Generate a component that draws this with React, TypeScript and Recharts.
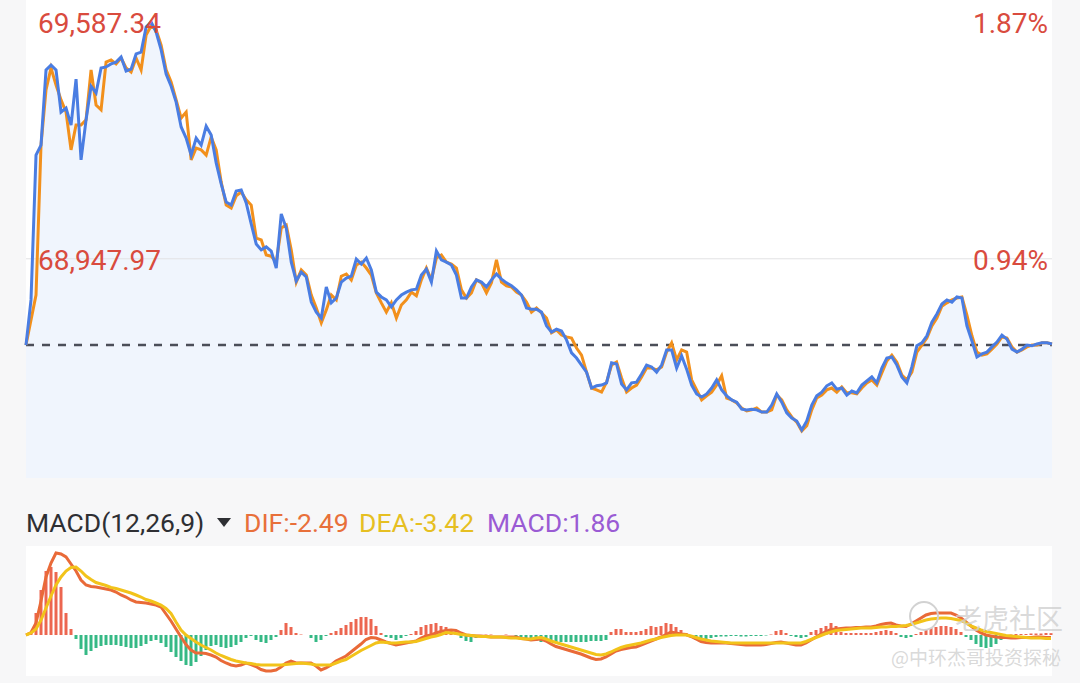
import React from 'react';
import { ComposedChart, Line, Area, Bar, Cell, XAxis, YAxis, ReferenceLine } from 'recharts';

// last price (blue) per tick
const blueLine = [
  68715, 68837, 69228, 69255, 69458, 69471, 69458, 69344, 69355, 69309,
  69433, 69215, 69323, 69414, 69396, 69463, 69466, 69474, 69479, 69493,
  69455, 69460, 69501, 69506, 69574, 69587.34, 69560, 69512, 69447, 69414,
  69371, 69304, 69274, 69228, 69274, 69255, 69306, 69282, 69207, 69150,
  69101, 69093, 69131, 69134, 69099, 69042, 68988, 68972, 68980, 68969,
  68923, 69069, 69031, 68939, 68888, 68912, 68899, 68831, 68804, 68788,
  68872, 68829, 68842, 68885, 68896, 68901, 68947, 68934, 68950, 68918,
  68858, 68845, 68837, 68818, 68837, 68850, 68858, 68864, 68866, 68904,
  68920, 68885, 68969, 68945, 68939, 68931, 68904, 68842, 68842, 68872,
  68891, 68885, 68872, 68891, 68907, 68893, 68883, 68875, 68864, 68850,
  68815, 68812, 68812, 68804, 68767, 68750, 68758, 68753, 68729, 68694,
  68680, 68661, 68642, 68599, 68605, 68607, 68613, 68667, 68664, 68610,
  68594, 68613, 68615, 68637, 68661, 68656, 68642, 68661, 68702, 68702,
  68653, 68686, 68650, 68607, 68583, 68575, 68583, 68599, 68621, 68594,
  68578, 68567, 68561, 68542, 68540, 68542, 68540, 68534, 68534, 68553,
  68583, 68561, 68532, 68518, 68510, 68486, 68510, 68553, 68578, 68588,
  68605, 68613, 68596, 68599, 68580, 68591, 68586, 68607, 68618, 68629,
  68613, 68653, 68680, 68683, 68661, 68629, 68613, 68656, 68713, 68721,
  68740, 68777, 68799, 68826, 68837, 68831, 68845, 68842, 68767, 68726,
  68683, 68691, 68696, 68710, 68723, 68742, 68731, 68704, 68696, 68704,
  68715, 68713, 68718, 68721, 68721, 68718,
];

// second price line (orange)
const orangeLine = [
  68715, 68783, 68850, 69255, 69404, 69463, 69417, 69377, 69344, 69242,
  69309, 69309, 69323, 69458, 69363, 69350, 69479, 69485, 69474, 69490,
  69463, 69452, 69490, 69458, 69552, 69577, 69566, 69525, 69458, 69425,
  69377, 69328, 69344, 69215, 69247, 69242, 69228, 69277, 69242, 69155,
  69093, 69085, 69118, 69128, 69107, 69093, 69004, 68999, 68958, 68955,
  68939, 69031, 69039, 68972, 68885, 68918, 68904, 68850, 68815, 68775,
  68810, 68850, 68837, 68901, 68907, 68891, 68931, 68939, 68923, 68904,
  68856, 68829, 68804, 68829, 68788, 68823, 68837, 68858, 68848, 68891,
  68923, 68891, 68950, 68958, 68939, 68934, 68923, 68864, 68842, 68856,
  68891, 68883, 68856, 68883, 68945, 68885, 68875, 68872, 68858, 68850,
  68831, 68804, 68815, 68802, 68788, 68748, 68756, 68742, 68737, 68734,
  68707, 68688, 68642, 68599, 68594, 68588, 68615, 68661, 68669, 68626,
  68588, 68599, 68607, 68629, 68653, 68653, 68648, 68656, 68696, 68721,
  68675, 68702, 68696, 68621, 68594, 68567, 68578, 68588, 68607, 68632,
  68572, 68567, 68559, 68545, 68537, 68540, 68545, 68534, 68534, 68540,
  68580, 68567, 68540, 68521, 68507, 68483, 68497, 68540, 68572, 68580,
  68594, 68599, 68588, 68602, 68586, 68586, 68583, 68599, 68613, 68621,
  68607, 68640, 68672, 68688, 68669, 68634, 68621, 68642, 68696, 68715,
  68734, 68767, 68788, 68820, 68829, 68837, 68842, 68845, 68796, 68740,
  68696, 68688, 68691, 68704, 68718, 68737, 68734, 68710, 68696, 68702,
  68710, 68715, 68715, 68721, 68721, 68718,
];

const difValues = [
  0, 2.5, 12, 34, 58, 72, 82, 81, 78, 71,
  64, 55, 50, 48.5, 48, 47, 46, 45, 43, 40,
  38, 35, 33, 32.5, 32, 31, 30, 28, 21, 14,
  6, -2, -9.5, -15, -18, -18, -18.5, -20, -22, -25.5,
  -28, -30, -31, -30, -28, -29.5, -31.5, -34.5, -36, -36,
  -35, -32, -28, -26, -28, -28, -28, -28, -31, -35,
  -33, -30, -26, -23.5, -21, -17, -13, -9, -4.5, -2.5,
  -3, -5, -7, -8.5, -10, -9, -8, -7, -6, -3,
  -1, 0, 2, 3.5, 4.5, 5, 4.5, 2, 0, -0.5,
  -1, -1, -1.5, -2, -2, -2, -2, -2, -2, -3.5,
  -4, -5, -4.5, -4, -6, -9, -11.5, -13, -14.5, -16,
  -17.5, -19, -21, -23, -24.5, -24, -22, -19, -16, -14.5,
  -13.5, -12.5, -12, -10, -8, -6, -4, -2, 0.5, 3,
  2, 1, 0.5, -1.5, -4, -6.5, -7.5, -8, -8, -8,
  -8, -8.5, -9, -9.5, -10, -10, -10, -10, -9.5, -8.5,
  -7.5, -7, -8, -9, -10, -10, -8, -5, -2, 1,
  3.5, 5.5, 6, 6.5, 7, 7, 7.5, 7.5, 8, 8,
  9, 10.5, 11.5, 12, 10, 9, 8.5, 11, 14, 17,
  20, 21.5, 22, 22, 22, 22, 20, 17, 13, 9,
  5, 2, 0, -1, -2, -2.5, -2.5, -3, -3, -2.5,
  -2.5, -2.5, -2, -2, -2.5, -2.49,
];

const deaValues = [
  0, 2, 6, 15, 27, 39, 50, 58, 64, 67.5,
  68, 64, 59, 55.5, 52.5, 51, 49.5, 47.5, 46.5, 45,
  43.5, 42, 40, 38, 35.5, 34, 32, 30, 26.5, 21.5,
  13, 5, 0, -3.5, -7, -10, -12.5, -15, -18, -20.5,
  -22.5, -24.5, -26, -27, -28, -28.5, -29.5, -30, -30, -30,
  -30, -30, -29.5, -29, -28.5, -28, -28.5, -29, -30, -30,
  -30, -30, -28, -26, -24.5, -21.5, -18.5, -15.5, -13, -10.5,
  -8, -7, -7.5, -8, -8, -7.5, -7, -7, -6.5, -5,
  -3.5, -2, -1, 0.5, 2.5, 2, 1.5, 0.5, 0, -0.5,
  -1, -1.5, -1.5, -2, -2, -2, -2.5, -3, -3, -3.5,
  -4, -4, -3, -2.5, -4, -6, -7.5, -9, -10.5, -12,
  -13.5, -15, -16.5, -18, -19.5, -20, -19, -17, -14.5, -12.5,
  -11, -10, -9, -8, -6.5, -5, -4, -2.5, -1.5, -0.5,
  0, 0, 0, -1, -2.5, -4, -5, -6, -6.5, -7,
  -7.5, -8, -8, -8, -8, -8, -8, -8, -8, -8,
  -8, -8, -8, -8, -8, -8, -6.5, -4.5, -2.5, -0.5,
  1.5, 3, 4.5, 5, 5.5, 6, 6.5, 7, 7, 7,
  7.5, 8, 8, 8.5, 8.5, 9, 9.5, 10.5, 12, 13.5,
  15, 16, 16.5, 17, 17, 16.5, 15.5, 14.5, 12, 9,
  7, 5, 3.5, 2.5, 1.5, 0.5, -0.5, -1, -1.5, -2,
  -2.5, -3, -3, -3, -3.5, -3.42,
];

const macdHist = [
  0, 2, 22, 45, 64, 68, 63, 48, 22, 6,
  -4, -14, -20, -16, -13, -11, -10, -10, -10, -11,
  -12, -13, -13, -11, -9, -6, -5, -8, -12, -17,
  -22, -26, -30, -31, -27, -21, -15, -11, -10, -12,
  -13, -12, -10, -7, -3, -1, -5, -7, -8, -5,
  -2, 5, 12, 8, 2, 0.5, 0, -3, -7, -5,
  -1, 2, 4, 7, 10, 13, 16, 18, 18, 16,
  9, 2, -2, -3, -5, -3, -1, 1, 4, 8,
  10, 11, 12, 9, 8, 6, 2, -3, -6, -7,
  -3, -1, 0.5, 0.5, 0, 0, 0.5, 0, -1, -3,
  -5, -5, -6, -7, -7, -7, -7, -7, -7, -7,
  -7, -7, -7, -6, -6, -6, -5, 3, 6, 6,
  3, 3, 3, 4, 6, 9, 8, 9, 12, 11,
  8, 5, 2, -2, -5, -7, -5, -3, -2, -1.5,
  -1.5, -1, -1, -1.5, -1.5, -1, -1, -1, -0.5, 0.5,
  4, 5, 2, -1, -2, -3, -2, 3, 5, 7,
  9, 12, 9, 3, 2, 2, 2, 2, 2, 2,
  3, 4, 5, 4, 2, -2, -3, -2, 1, 3,
  5, 7, 8, 9, 9, 8, 6, 3, -2, -5,
  -9, -12, -13, -12, -9, -5, -2, 0.5, 1, 1,
  1, 1.5, 1.5, 1.5, 2, 1.86,
];

const prevClose = 68715.2;
const priceTicks = [69587.34, 68947.97];
const priceLabels = ['69,587.34', '68,947.97'];
const pctLabels = ['1.87%', '0.94%'];
const priceDomain = [68356.1, 69646.7];
const macdDomain = [-41, 89];

const macdTitle = 'MACD(12,26,9)';
const macdLegend = [
  { label: 'DIF:-2.49', color: '#e8703a', x: 244 },
  { label: 'DEA:-3.42', color: '#e6bf22', x: 359 },
  { label: 'MACD:1.86', color: '#9a5bd4', x: 487 },
];

const priceData = blueLine.map((p, i) => ({ t: i, price: p, avg: orangeLine[i] }));
const macdData = difValues.map((d, i) => ({ t: i, dif: d, dea: deaValues[i], hist: macdHist[i] }));

const PriceTick = ({ y, payload }: any) => {
  const idx = priceTicks.indexOf(payload.value);
  if (idx < 0) return null;
  return (
    <g>
      <text x={38} y={y} dy={11} fill="#d94b3e" fontSize={28} fontFamily="Roboto" textAnchor="start">
        {priceLabels[idx]}
      </text>
      <text x={1048} y={y} dy={11} fill="#d94b3e" fontSize={28} fontFamily="Roboto" textAnchor="end">
        {pctLabels[idx]}
      </text>
    </g>
  );
};

const App: React.FC = () => {
  return (
    <div style={{ position: 'absolute', left: 0, top: 0, width: 1080, height: 683, background: '#f7f7f8', overflow: 'hidden' }}>
      <div style={{ position: 'absolute', left: 26, top: 0, width: 1026, height: 478, background: '#fff' }} />
      <div style={{ position: 'absolute', left: 26, top: 546, width: 1026, height: 130, background: '#fff' }} />

      <div style={{ position: 'absolute', left: 0, top: 0 }}>
        <ComposedChart width={1080} height={478} data={priceData} margin={{ top: 0, right: 28, bottom: 0, left: 26 }}>
          <XAxis dataKey="t" hide scale="point" />
          <YAxis
            domain={priceDomain}
            ticks={priceTicks}
            interval={0}
            allowDataOverflow
            mirror
            axisLine={false}
            tickLine={false}
            tick={<PriceTick />}
          />
          <ReferenceLine y={68947.97} stroke="#e2e2e4" strokeWidth={1} />
          <Area dataKey="price" stroke="none" fill="#f0f5fd" fillOpacity={1} isAnimationActive={false} />
          <ReferenceLine y={prevClose} stroke="#4b4e58" strokeWidth={2.5} strokeDasharray="8 8" />
          <Line dataKey="avg" stroke="#f2901c" strokeWidth={3} dot={false} isAnimationActive={false} />
          <Line dataKey="price" stroke="#4a7de2" strokeWidth={3} dot={false} isAnimationActive={false} />
        </ComposedChart>
      </div>

      <div style={{ position: 'absolute', left: 0, top: 546 }}>
        <ComposedChart
          width={1080}
          height={130}
          data={macdData}
          margin={{ top: 0, right: 26.5, bottom: 0, left: 23.5 }}
          barCategoryGap={0}
        >
          <XAxis dataKey="t" hide />
          <YAxis domain={macdDomain} hide allowDataOverflow />
          <Bar dataKey="hist" barSize={3} isAnimationActive={false}>
            {macdHist.map((v, i) => (
              <Cell key={i} fill={v >= 0 ? '#ec6650' : '#35b985'} />
            ))}
          </Bar>
          <Line dataKey="dif" stroke="#e96a38" strokeWidth={3} dot={false} isAnimationActive={false} />
          <Line dataKey="dea" stroke="#f2c31a" strokeWidth={3} dot={false} isAnimationActive={false} />
        </ComposedChart>
      </div>

      <svg width={1080} height={683} style={{ position: 'absolute', left: 0, top: 0, pointerEvents: 'none' }}>
        <text x={26} y={532} fontSize={26.5} fontFamily="Roboto" fill="#2e2f33">{macdTitle}</text>
        <polygon points="217,518 231,518 224,527" fill="#2e2f33" />
        {macdLegend.map((m) => (
          <text key={m.label} x={m.x} y={532} fontSize={26.5} fontFamily="Roboto" fill={m.color}>{m.label}</text>
        ))}
        {/* watermark */}
        <circle cx={924} cy={616} r={14} fill="none" stroke="#d2d2d2" strokeWidth={2} />
        <text x={955} y={629} fontSize={27} fontFamily="Noto Sans CJK SC" fill="#d0d0d0" fillOpacity={0.8}>老虎社区</text>
        <text x={891} y={665} fontSize={19} fontFamily="Noto Sans CJK SC" fill="#d0d0d0" fillOpacity={0.8}>@中环杰哥投资探秘</text>
      </svg>
    </div>
  );
};

export default App;
